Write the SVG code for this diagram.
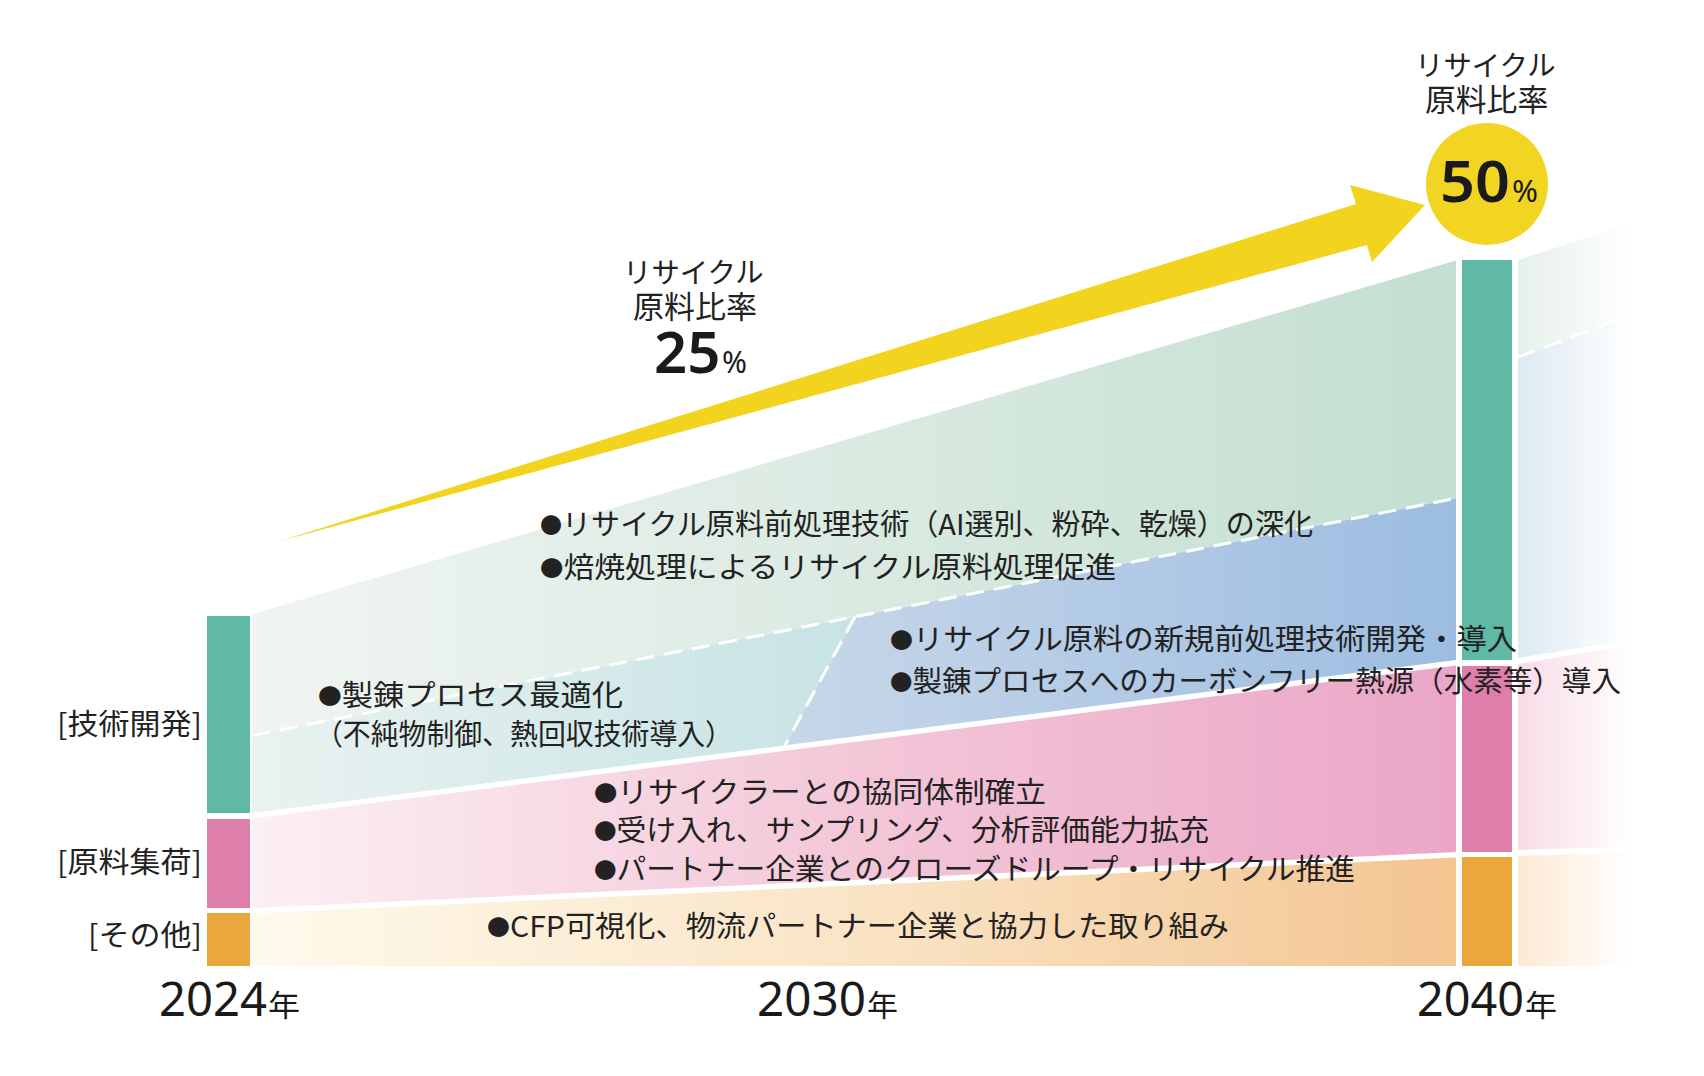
<svg xmlns="http://www.w3.org/2000/svg" width="1704" height="1076" viewBox="0 0 1704 1076">
<style>
.t{font-family:"Noto Sans CJK JP","Noto Sans",sans-serif;font-size:29px;fill:#222}
.h{font-family:"Noto Sans CJK JP","Noto Sans",sans-serif;font-size:30px;fill:#222}
.b{font-size:22px}
.num{font-family:"Noto Sans","Open Sans",sans-serif;fill:#1a1a1a}
.yr{font-family:"Noto Sans","Open Sans",sans-serif;font-size:48px;fill:#1a1a1a}
.nen{font-family:"Noto Sans CJK JP",sans-serif;font-size:30px;fill:#1a1a1a}
.dash{fill:none;stroke:#fff;stroke-width:3;stroke-dasharray:18 10}
</style>
<defs>
<linearGradient id="gGreen" gradientUnits="userSpaceOnUse" x1="252" y1="0" x2="1456" y2="0"><stop offset="0" stop-color="#f1f5f2"/><stop offset="1" stop-color="#c3dfd1"/></linearGradient>
<linearGradient id="gTeal" gradientUnits="userSpaceOnUse" x1="252" y1="0" x2="855" y2="0"><stop offset="0" stop-color="#e9f2f1"/><stop offset="1" stop-color="#c7e3e4"/></linearGradient>
<linearGradient id="gBlue" gradientUnits="userSpaceOnUse" x1="785" y1="0" x2="1456" y2="0"><stop offset="0" stop-color="#c8d7e9"/><stop offset="1" stop-color="#9cbde1"/></linearGradient>
<linearGradient id="gPink" gradientUnits="userSpaceOnUse" x1="252" y1="0" x2="1456" y2="0"><stop offset="0" stop-color="#fcf0f4"/><stop offset="0.5" stop-color="#f3c7d8"/><stop offset="1" stop-color="#eba6c7"/></linearGradient>
<linearGradient id="gOrange" gradientUnits="userSpaceOnUse" x1="252" y1="0" x2="1456" y2="0"><stop offset="0" stop-color="#fefaec"/><stop offset="0.5" stop-color="#fae4c6"/><stop offset="1" stop-color="#f3c591"/></linearGradient>
<linearGradient id="rGreen" gradientUnits="userSpaceOnUse" x1="1518" y1="0" x2="1632" y2="0"><stop offset="0" stop-color="#e6f0ea"/><stop offset="1" stop-color="#ffffff"/></linearGradient>
<linearGradient id="rBlue" gradientUnits="userSpaceOnUse" x1="1518" y1="0" x2="1632" y2="0"><stop offset="0" stop-color="#dceaf2"/><stop offset="1" stop-color="#ffffff"/></linearGradient>
<linearGradient id="rPink" gradientUnits="userSpaceOnUse" x1="1518" y1="0" x2="1632" y2="0"><stop offset="0" stop-color="#f8dbe7"/><stop offset="1" stop-color="#ffffff"/></linearGradient>
<linearGradient id="rOrange" gradientUnits="userSpaceOnUse" x1="1518" y1="0" x2="1632" y2="0"><stop offset="0" stop-color="#fde9d4"/><stop offset="1" stop-color="#ffffff"/></linearGradient>
</defs>
<rect width="1704" height="1076" fill="#ffffff"/>

<g id="band-tech">
<polygon points="252,614 1456,260.6 1456,498.3 252,735.5" fill="url(#gGreen)"/>
<polygon points="252,735.5 855,616.7 785,745.3 252,813" fill="url(#gTeal)"/>
<polygon points="855,616.7 1456,498.3 1456,660 785,745.3" fill="url(#gBlue)"/>
<polygon points="1518,260 1650,217 1650,308 1518,357" fill="url(#rGreen)"/>
<polygon points="1518,357 1650,308 1650,636 1518,658" fill="url(#rBlue)"/>
</g>
<g id="band-material">
<polygon points="252,818.5 1456,665.5 1456,852 252,908" fill="url(#gPink)"/>
<polygon points="1518,664 1650,642 1650,846 1518,850" fill="url(#rPink)"/>
</g>
<g id="band-other">
<polygon points="252,913.5 1456,857.5 1456,966 252,966" fill="url(#gOrange)"/>
<polygon points="1518,856 1650,852 1650,966 1518,966" fill="url(#rOrange)"/>
</g>

<g id="connectors">
<line class="dash" x1="252" y1="735.5" x2="1456" y2="498.3"/>
<line class="dash" x1="855" y1="616.7" x2="785" y2="745.3"/>
<line class="dash" x1="1518" y1="357" x2="1645" y2="310"/>
<polygon id="arrow" points="280,541 1356,204 1350,185 1425,205 1372,262 1367,245" fill="#f2d41f"/>
</g>

<g id="bars-2024">
<rect x="207" y="616" width="43" height="197" fill="#5fb9a5"/>
<rect x="207" y="819" width="43" height="89" fill="#de7eab"/>
<rect x="207" y="913" width="43" height="53" fill="#eca73c"/>
</g>
<g id="bars-2040">
<rect x="1462" y="260" width="50" height="400" fill="#5fb9a5"/>
<rect x="1462" y="666" width="50" height="186" fill="#de7eab"/>
<rect x="1462" y="857" width="50" height="109" fill="#eca73c"/>
</g>

<g id="target-50">
<text class="h"><tspan x="1415" y="76" font-size="28.4">リサイクル</tspan><tspan x="1425" y="111" font-size="30.8">原料比率</tspan></text>
<circle cx="1487" cy="184" r="61" fill="#f2d522"/>
<text class="num" x="1440" y="202" font-size="58" font-weight="600" textLength="70" lengthAdjust="spacingAndGlyphs">50</text>
<text class="num" x="1512" y="202" font-size="30" textLength="26" lengthAdjust="spacingAndGlyphs">%</text>
</g>

<g id="target-25">
<text class="h"><tspan x="623" y="283" font-size="28.4">リサイクル</tspan><tspan x="633" y="318" font-size="31">原料比率</tspan><tspan class="num" x="654" y="373" font-size="58" font-weight="600">25</tspan><tspan class="num" x="722" y="373" font-size="30">%</tspan></text>
</g>

<g id="labels-left">
<text class="t" x="57" y="735" textLength="145" lengthAdjust="spacingAndGlyphs">[技術開発]</text>
<text class="t" x="57" y="873" textLength="145" lengthAdjust="spacingAndGlyphs">[原料集荷]</text>
<text class="t" x="88" y="946" textLength="114" lengthAdjust="spacingAndGlyphs">[その他]</text>
</g>

<g id="tech-items">
<text class="t" x="540" y="535" textLength="773" lengthAdjust="spacingAndGlyphs"><tspan class="b" dy="-2">●</tspan><tspan dy="2">リサイクル原料前処理技術（AI選別、粉砕、乾燥）の深化</tspan></text>
<text class="t" x="540" y="578" textLength="576" lengthAdjust="spacingAndGlyphs"><tspan class="b" dy="-2">●</tspan><tspan dy="2">焙焼処理によるリサイクル原料処理促進</tspan></text>
<text class="t" x="318" y="706" textLength="305" lengthAdjust="spacingAndGlyphs"><tspan class="b" dy="-2">●</tspan><tspan dy="2">製錬プロセス最適化</tspan></text>
<text class="t" x="315" y="745" textLength="418" lengthAdjust="spacingAndGlyphs">（不純物制御、熱回収技術導入）</text>
<text class="t" x="890" y="650" textLength="627" lengthAdjust="spacingAndGlyphs"><tspan class="b" dy="-2">●</tspan><tspan dy="2">リサイクル原料の新規前処理技術開発・導入</tspan></text>
<text class="t" x="890" y="692" textLength="731" lengthAdjust="spacingAndGlyphs"><tspan class="b" dy="-2">●</tspan><tspan dy="2">製錬プロセスへのカーボンフリー熱源（水素等）導入</tspan></text>
</g>

<g id="material-items">
<text class="t" x="594" y="803" textLength="452" lengthAdjust="spacingAndGlyphs"><tspan class="b" dy="-2">●</tspan><tspan dy="2">リサイクラーとの協同体制確立</tspan></text>
<text class="t" x="594" y="841" textLength="615" lengthAdjust="spacingAndGlyphs"><tspan class="b" dy="-2">●</tspan><tspan dy="2">受け入れ、サンプリング、分析評価能力拡充</tspan></text>
<text class="t" x="594" y="880" textLength="761" lengthAdjust="spacingAndGlyphs"><tspan class="b" dy="-2">●</tspan><tspan dy="2">パートナー企業とのクローズドループ・リサイクル推進</tspan></text>
</g>

<g id="other-items">
<text class="t" x="487" y="937" textLength="742" lengthAdjust="spacingAndGlyphs"><tspan class="b" dy="-2">●</tspan><tspan dy="2">CFP可視化、物流パートナー企業と協力した取り組み</tspan></text>
</g>

<g id="years">
<text class="yr" x="159" y="1016" textLength="108" lengthAdjust="spacingAndGlyphs">2024</text>
<text class="nen" x="268" y="1016" textLength="32" lengthAdjust="spacingAndGlyphs">年</text>
<text class="yr" x="757" y="1016" textLength="109" lengthAdjust="spacingAndGlyphs">2030</text>
<text class="nen" x="867" y="1016" textLength="31" lengthAdjust="spacingAndGlyphs">年</text>
<text class="yr" x="1417" y="1016" textLength="107" lengthAdjust="spacingAndGlyphs">2040</text>
<text class="nen" x="1525" y="1016" textLength="32" lengthAdjust="spacingAndGlyphs">年</text>
</g>
</svg>
